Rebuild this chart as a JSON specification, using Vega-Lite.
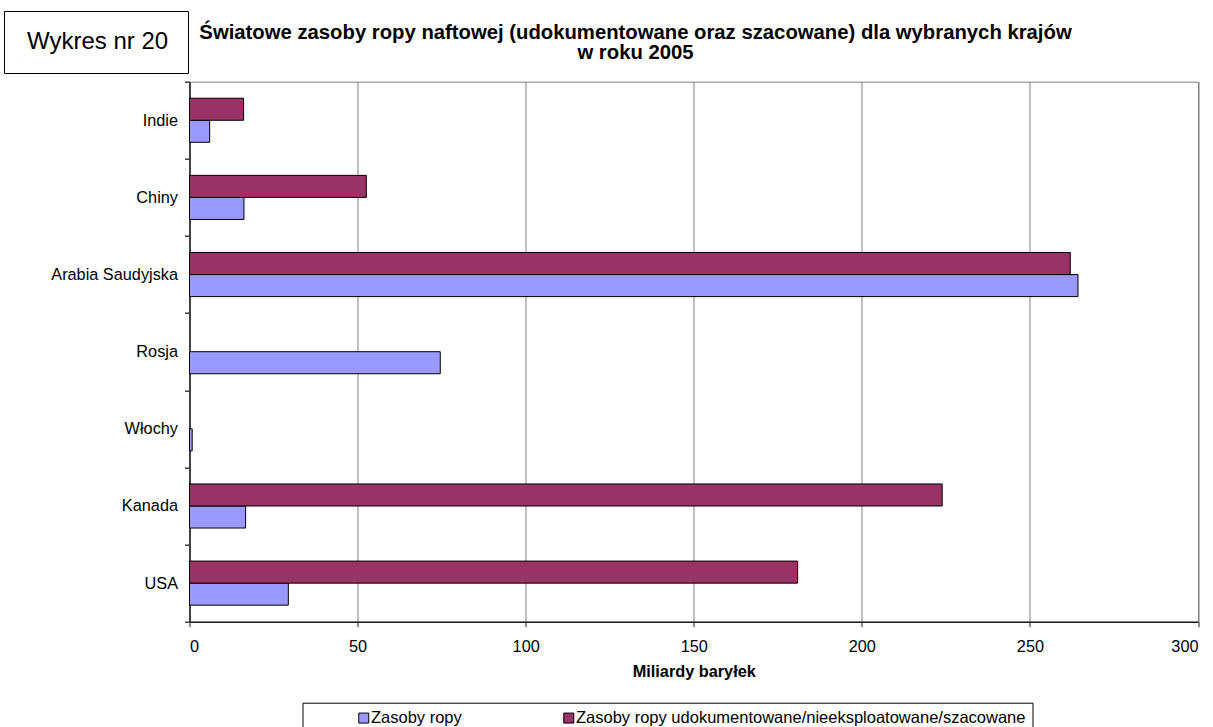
{
  "$schema": "https://vega.github.io/schema/vega-lite/v6.json",
  "autosize": {"type": "none"},
  "width": 1008.5,
  "height": 540,
  "padding": {"left": 189.5, "top": 81.7, "right": 15, "bottom": 105.3},
  "background": "white",
  "config": {
    "font": "Liberation Sans",
    "view": {"stroke": "#808080", "strokeWidth": 1},
    "axis": {
      "labelFont": "Liberation Sans",
      "labelFontSize": 16.3,
      "labelColor": "black",
      "titleFont": "Liberation Sans",
      "titleColor": "black"
    },
    "legend": {"labelFont": "Liberation Sans", "labelColor": "black"}
  },
  "title": {
    "text": [
      "Światowe zasoby ropy naftowej (udokumentowane oraz szacowane) dla wybranych krajów",
      "w roku 2005"
    ],
    "anchor": "start",
    "align": "center",
    "frame": "group",
    "dx": 446,
    "dy": 75,
    "offset": 22,
    "font": "Liberation Sans",
    "fontSize": 20.3,
    "fontWeight": "bold",
    "lineHeight": 20,
    "color": "black"
  },
  "datasets": {
    "zasoby": [
      {"kraj": "Indie", "seria": "Zasoby ropy", "wartosc": 6.0},
      {"kraj": "Indie", "seria": "Zasoby ropy udokumentowane/nieeksploatowane/szacowane", "wartosc": 16.1},
      {"kraj": "Chiny", "seria": "Zasoby ropy", "wartosc": 16.2},
      {"kraj": "Chiny", "seria": "Zasoby ropy udokumentowane/nieeksploatowane/szacowane", "wartosc": 52.6},
      {"kraj": "Arabia Saudyjska", "seria": "Zasoby ropy", "wartosc": 264.3},
      {"kraj": "Arabia Saudyjska", "seria": "Zasoby ropy udokumentowane/nieeksploatowane/szacowane", "wartosc": 262.0},
      {"kraj": "Rosja", "seria": "Zasoby ropy", "wartosc": 74.6},
      {"kraj": "Włochy", "seria": "Zasoby ropy", "wartosc": 0.8},
      {"kraj": "Kanada", "seria": "Zasoby ropy", "wartosc": 16.7},
      {"kraj": "Kanada", "seria": "Zasoby ropy udokumentowane/nieeksploatowane/szacowane", "wartosc": 223.9},
      {"kraj": "USA", "seria": "Zasoby ropy", "wartosc": 29.4},
      {"kraj": "USA", "seria": "Zasoby ropy udokumentowane/nieeksploatowane/szacowane", "wartosc": 180.9}
    ],
    "etykieta": [{"napis": "Wykres nr 20"}]
  },
  "layer": [
    {
      "data": {"name": "zasoby"},
      "mark": {"type": "bar", "stroke": "black", "strokeWidth": 1},
      "encoding": {
        "y": {
          "field": "kraj",
          "type": "nominal",
          "sort": ["Indie", "Chiny", "Arabia Saudyjska", "Rosja", "Włochy", "Kanada", "USA"],
          "scale": {"paddingInner": 0, "paddingOuter": 0},
          "axis": {
            "title": null,
            "tickBand": "extent",
            "tickSize": 5,
            "tickColor": "#404040",
            "tickWidth": 1.5,
            "domainColor": "#404040",
            "domainWidth": 2,
            "labelPadding": 7,
            "grid": false
          }
        },
        "yOffset": {
          "field": "seria",
          "type": "nominal",
          "scale": {
            "domain": ["Zasoby ropy udokumentowane/nieeksploatowane/szacowane", "Zasoby ropy"],
            "paddingInner": 0,
            "paddingOuter": 0.75
          }
        },
        "x": {
          "field": "wartosc",
          "type": "quantitative",
          "scale": {"domain": [0, 300], "nice": false},
          "axis": {
            "title": "Miliardy baryłek",
            "titleFontSize": 16.3,
            "titleFontWeight": "bold",
            "titlePadding": 8,
            "values": [0, 50, 100, 150, 200, 250, 300],
            "tickSize": 5,
            "tickColor": "#202020",
            "tickWidth": 1,
            "domainColor": "#202020",
            "domainWidth": 1.5,
            "labelPadding": 12,
            "grid": true,
            "gridColor": "#808080",
            "gridWidth": 1
          }
        },
        "color": {
          "field": "seria",
          "type": "nominal",
          "scale": {
            "domain": ["Zasoby ropy", "Zasoby ropy udokumentowane/nieeksploatowane/szacowane"],
            "range": ["#9999FF", "#993366"]
          },
          "legend": {
            "title": null,
            "orient": "none",
            "legendX": 113,
            "legendY": 621,
            "direction": "horizontal",
            "columns": 2,
            "columnPadding": 52,
            "padding": 7,
            "symbolType": "square",
            "symbolSize": 100,
            "symbolStrokeColor": "black",
            "symbolStrokeWidth": 1,
            "symbolOffset": 46,
            "labelOffset": -1,
            "labelLimit": 0,
            "labelFontSize": 16.5,
            "strokeColor": "black",
            "fillColor": "white"
          }
        }
      }
    },
    {
      "data": {"name": "etykieta"},
      "mark": {"type": "point", "opacity": 0},
      "encoding": {
        "shape": {
          "field": "napis",
          "type": "nominal",
          "legend": {
            "title": null,
            "orient": "none",
            "legendX": -185.5,
            "legendY": -70.7,
            "padding": 19,
            "symbolSize": 0,
            "symbolOpacity": 0,
            "symbolStrokeWidth": 0,
            "labelOffset": -20,
            "labelFontSize": 24,
            "strokeColor": "black",
            "fillColor": "white"
          }
        }
      }
    }
  ]
}
